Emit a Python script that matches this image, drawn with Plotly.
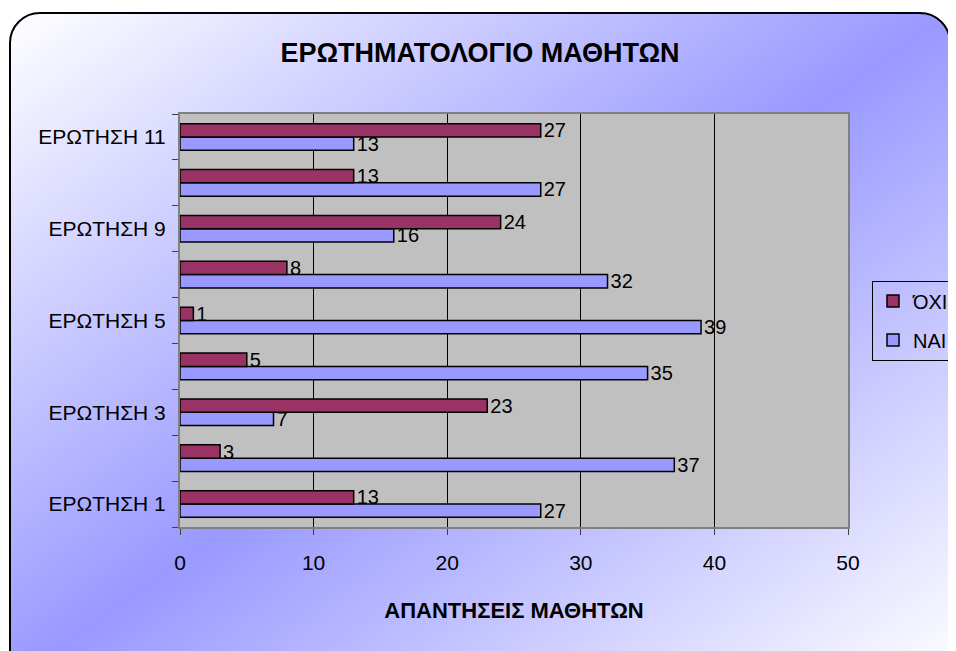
import base64
import plotly.graph_objects as go

# questions, bottom to top
questions = ['ΕΡΩΤΗΣΗ 1', 'ΕΡΩΤΗΣΗ 2', 'ΕΡΩΤΗΣΗ 3', 'ΕΡΩΤΗΣΗ 4', 'ΕΡΩΤΗΣΗ 5',
             'ΕΡΩΤΗΣΗ 7', 'ΕΡΩΤΗΣΗ 9', 'ΕΡΩΤΗΣΗ 10', 'ΕΡΩΤΗΣΗ 11']
shown_labels = ['ΕΡΩΤΗΣΗ 1', '', 'ΕΡΩΤΗΣΗ 3', '', 'ΕΡΩΤΗΣΗ 5',
                '', 'ΕΡΩΤΗΣΗ 9', '', 'ΕΡΩΤΗΣΗ 11']
yes_votes = [27, 37, 7, 35, 39, 32, 16, 27, 13]
no_votes = [13, 3, 23, 5, 1, 8, 24, 13, 27]

W, H = 956, 651
FONT = 'Liberation Sans, Arial, sans-serif'
OFF = 8  # page body margin shifts the figure by this much

# gradient card behind the whole chart
svg = f'''<svg xmlns="http://www.w3.org/2000/svg" width="{W}" height="{H}">
<defs><linearGradient id="g" x1="0" y1="0" x2="1" y2="1">
<stop offset="0" stop-color="#FFFFFF"/><stop offset="0.5" stop-color="#9999FF"/>
<stop offset="1" stop-color="#FFFFFF"/></linearGradient></defs>
<rect x="{10 - OFF}" y="{13 - OFF}" width="940" height="670" rx="30" ry="30" fill="url(#g)" stroke="#000" stroke-width="2"/>
</svg>'''
bg_src = 'data:image/svg+xml;base64,' + base64.b64encode(svg.encode()).decode()

fig = go.Figure()
fig.add_trace(go.Bar(
    y=questions, x=yes_votes, name='ΝΑΙ', orientation='h', legendgroup='yes', legendrank=2,
    marker=dict(color='#9999FF', line=dict(color='black', width=1.5)),
    text=yes_votes, textposition='outside', cliponaxis=False, constraintext='none',
    textfont=dict(size=20, color='black', family=FONT),
))
fig.add_trace(go.Bar(
    y=questions, x=no_votes, name='ΌΧΙ', orientation='h', legendgroup='no', legendrank=1,
    marker=dict(color='#993366', line=dict(color='black', width=1.5)),
    text=no_votes, textposition='outside', cliponaxis=False, constraintext='none',
    textfont=dict(size=20, color='black', family=FONT),
))

ml, mt = 180 - OFF, 114 - OFF
mr, mb = W - (848 - OFF), H - (527 - OFF)
pw, ph = W - ml - mr, H - mt - mb

fig.update_layout(
    width=W, height=H, autosize=False,
    margin=dict(l=ml, r=mr, t=mt, b=mb, autoexpand=False),
    paper_bgcolor='white', plot_bgcolor='#C0C0C0',
    font=dict(family=FONT, color='black', size=20),
    barmode='group', bargap=0.42, bargroupgap=0,
    title=dict(text='<b>ΕΡΩΤΗΜΑΤΟΛΟΓΙΟ ΜΑΘΗΤΩΝ</b>', x=(480 - OFF) / W, xanchor='center',
               y=1 - (53 - OFF) / H, yanchor='middle', font=dict(size=27)),
    xaxis=dict(range=[0, 50], dtick=10, showgrid=True, gridcolor='black', gridwidth=1,
               showline=True, linecolor='#808080', linewidth=2, mirror=True,
               ticks='outside', ticklen=6, tickcolor='#404040', zeroline=False,
               tickfont=dict(size=21), ticklabelstandoff=10,
               title=dict(text='<b>ΑΠΑΝΤΗΣΕΙΣ ΜΑΘΗΤΩΝ</b>', font=dict(size=22), standoff=29)),
    yaxis=dict(type='category', tickmode='array', tickvals=questions, ticktext=shown_labels,
               tickson='boundaries', ticks='outside', ticklen=6, tickcolor='#404040',
               showline=True, linecolor='#808080', linewidth=2, mirror=True,
               showgrid=False, tickfont=dict(size=21), ticklabelstandoff=8),
    legend=dict(x=(872 - OFF - ml) / pw, xanchor='left', y=0.5, yanchor='middle',
                traceorder='grouped', tracegroupgap=10, itemwidth=30,
                bgcolor='rgba(0,0,0,0)', bordercolor='black', borderwidth=1,
                font=dict(size=20)),
    images=[dict(source=bg_src, xref='paper', yref='paper',
                 x=-ml / pw, y=1 + mt / ph, sizex=W / pw, sizey=H / ph,
                 xanchor='left', yanchor='top', sizing='stretch', layer='below')],
    shapes=[dict(type='rect', xref='paper', yref='paper', x0=0, x1=1, y0=0, y1=1,
                 fillcolor='#C0C0C0', line=dict(width=0), layer='below')],
)

fig.write_html('out.html')
